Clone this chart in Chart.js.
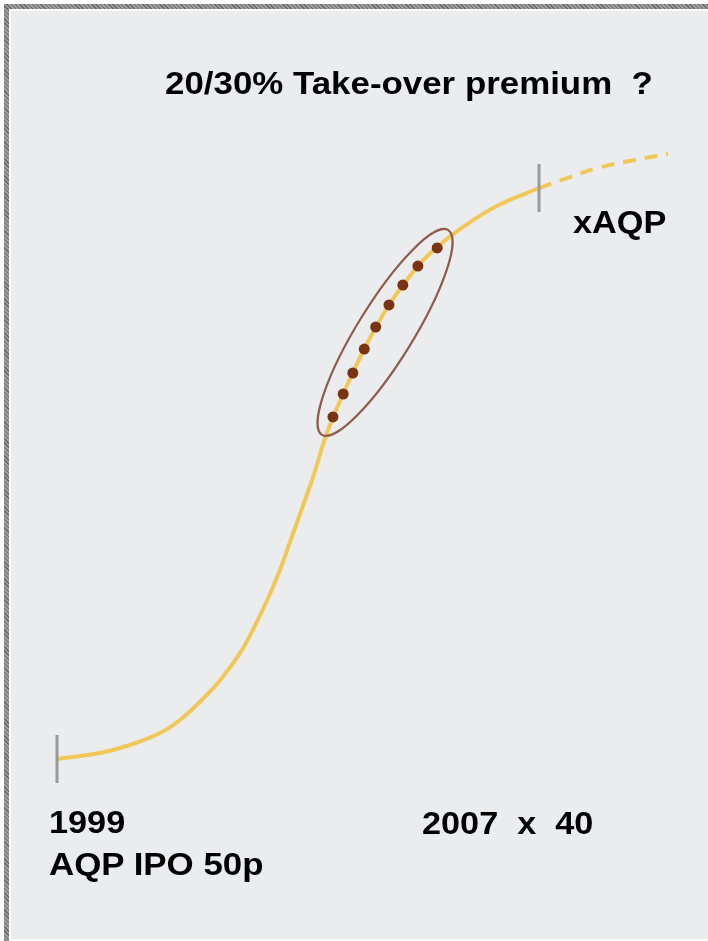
<!DOCTYPE html>
<html>
<head>
<meta charset="utf-8">
<script src="https://cdn.jsdelivr.net/npm/chart.js@4"></script>
<style>
  html, body { margin: 0; padding: 0; background: #fff; overflow: hidden; }
  #frame { position: absolute; left: 4px; top: 4px; width: 740px; height: 940px;
           background: repeating-linear-gradient(45deg, #6c6c6c 0 1px, #9c9c9c 1px 3px); }
  #gap { position: absolute; left: 5px; top: 5px; right: 0; bottom: 0; background: #fff; }
  #panel { position: absolute; left: 2px; top: 2px; right: 0; bottom: 5px; background: #ebecee; }
  #gap #panel { position: absolute; }
  #pet { position: absolute; left: 0; top: 0; }
  .lbl { position: absolute; font-family: "Liberation Sans", Arial, sans-serif; font-weight: bold;
         font-size: 32px; line-height: 32px; color: #000; white-space: pre;
         transform: scaleX(1.07); transform-origin: left top; }
</style>
</head>
<body>
<div id="frame"><div id="gap"><div id="panel"></div></div></div>
<canvas id="pet" width="708" height="941"></canvas>
<div class="lbl" style="left:165px; top:67px; transform: scaleX(1.09);">20/30% Take-over premium  ?</div>
<div class="lbl" style="left:573px; top:206px;">xAQP</div>
<div class="lbl" style="left:49px; top:806px;">1999</div>
<div class="lbl" style="left:49px; top:848px; transform: scaleX(1.09);">AQP IPO 50p</div>
<div class="lbl" style="left:422px; top:807px;">2007  x  40</div>
<script>
// S-curve (years vs relative value index)
const curveYears  = [1999.00, 1999.71, 2000.21, 2000.71, 2001.04, 2001.37, 2001.71, 2002.04, 2002.25, 2002.49, 2002.70, 2002.92, 2003.25, 2003.48, 2003.75, 2004.10, 2004.51, 2004.99, 2005.31, 2005.74, 2006.30, 2007.00];
const curveValues = [19.34, 19.98, 20.83, 22.10, 23.49, 25.40, 27.74, 30.61, 33.05, 36.24, 39.43, 43.36, 49.31, 53.99, 58.13, 62.91, 67.59, 71.73, 73.75, 75.88, 78.11, 80.02];

// projected part after 2007 (dashed)
const projYears  = [2007.00, 2007.47, 2007.97, 2008.59, 2009.14];
const projValues = [80.02, 81.08, 82.15, 83.00, 83.63];

// brown dots inside the ellipse
const dotYears  = [2003.58, 2003.75, 2003.91, 2004.10, 2004.29, 2004.51, 2004.74, 2004.99, 2005.31];
const dotValues = [55.69, 58.13, 60.36, 62.91, 65.25, 67.59, 69.71, 71.73, 73.65];

// grey markers on the curve
const markerYears  = [1999, 2007];
const markerValues = [19.34, 80.02];

function toPoints(xs, ys) {
    return xs.map(function (x, i) { return { x: x, y: ys[i] }; });
}

const extras = {
    id: 'extras',
    afterDatasetsDraw: function (chart) {
        let ctx = chart.ctx;
        let sx = chart.scales.x, sy = chart.scales.y;
        ctx.save();
        // markers
        ctx.strokeStyle = '#9a9a9c';
        ctx.lineWidth = 3;
        markerYears.forEach(function (yr, i) {
            let px = sx.getPixelForValue(yr);
            let py = sy.getPixelForValue(markerValues[i]);
            ctx.beginPath();
            ctx.moveTo(px, py - 24);
            ctx.lineTo(px, py + 24);
            ctx.stroke();
        });
        // ellipse round the dots
        let n = dotYears.length - 1;
        let x0 = sx.getPixelForValue(dotYears[0]), y0 = sy.getPixelForValue(dotValues[0]);
        let x1 = sx.getPixelForValue(dotYears[n]), y1 = sy.getPixelForValue(dotValues[n]);
        let cx = (x0 + x1) / 2, cy = (y0 + y1) / 2;
        let rot = Math.atan2(y1 - y0, x1 - x0);
        let half = Math.hypot(x1 - x0, y1 - y0) / 2;
        ctx.strokeStyle = '#8e5c48';
        ctx.lineWidth = 2.2;
        ctx.beginPath();
        ctx.ellipse(cx, cy, half + 21, 28, rot, 0, Math.PI * 2);
        ctx.stroke();
        ctx.restore();
    }
};

window.onload = function () {
    let context = document.querySelector('#pet').getContext('2d');
    new Chart(context, {
        type: 'line',
        data: {
            datasets: [{
                label: 'AQP',
                data: toPoints(curveYears, curveValues),
                borderColor: '#f1c857',
                borderWidth: 4,
                pointRadius: 0,
                tension: 0.4,
                order: 3
            }, {
                label: 'projection',
                data: toPoints(projYears, projValues),
                borderColor: '#f1c857',
                borderWidth: 4,
                borderDash: [13, 9],
                pointRadius: 0,
                tension: 0.4,
                order: 2
            }, {
                label: 'dots',
                data: toPoints(dotYears, dotValues),
                showLine: false,
                pointRadius: 5.5,
                pointBackgroundColor: '#7a3412',
                pointBorderWidth: 0,
                order: 1
            }]
        },
        options: {
            responsive: false,
            animation: false,
            layout: { padding: 0, autoPadding: false },
            plugins: { legend: { display: false }, tooltip: { enabled: false } },
            scales: {
                x: { type: 'linear', display: false, min: 1998.054, max: 2009.805 },
                y: { type: 'linear', display: false, min: 0, max: 100 }
            }
        },
        plugins: [extras]
    });
}
</script>
</body>
</html>
